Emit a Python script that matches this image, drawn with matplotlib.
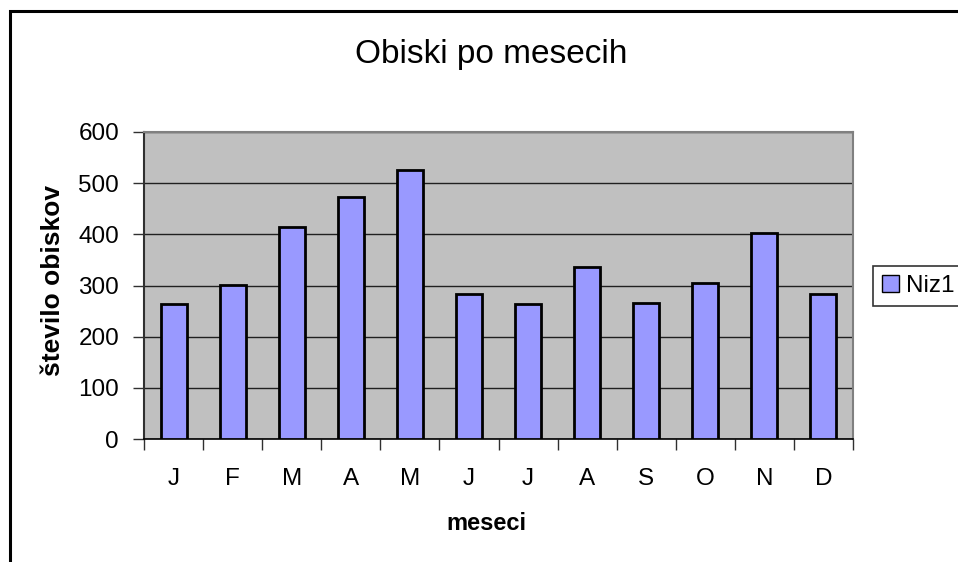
import matplotlib
matplotlib.use("Agg")
import matplotlib.pyplot as plt
from matplotlib.patches import Rectangle

months = ["J", "F", "M", "A", "M", "J", "J", "A", "S", "O", "N", "D"]
visits = [263, 301, 415, 473, 525, 283, 263, 337, 266, 305, 403, 283]
series_name = "Niz1"
title = "Obiski po mesecih"
xlabel = "meseci"
ylabel = "število obiskov"
yticks = [0, 100, 200, 300, 400, 500, 600]

plt.rcParams['font.family'] = ['Liberation Sans', 'DejaVu Sans']

W, H = 958, 562
fig = plt.figure(figsize=(W / 100, H / 100), dpi=100)
ax = fig.add_axes([144 / W, (H - 439) / H, 709 / W, 307 / H])
ax.set_facecolor('#C0C0C0')

x = list(range(len(months)))
ax.bar(x, visits, width=0.44, color='#9999FF', edgecolor='black', linewidth=2.0,
       zorder=3, label=series_name)

ax.set_xlim(-0.5, len(months) - 0.5)
ax.set_ylim(0, 600)
ax.set_yticks(yticks)
ax.set_yticklabels([str(v) for v in yticks])
ax.yaxis.grid(True, color='#202020', linewidth=1.0, zorder=1)
ax.set_axisbelow(True)

ax.set_xticks(x)
ax.set_xticklabels(months)
ax.set_xticks([i - 0.5 for i in range(len(months) + 1)], minor=True)
ax.tick_params(axis='x', which='major', length=0, pad=21, labelsize=17.5)
ax.tick_params(axis='x', which='minor', length=8, width=1, color='#303030')
ax.tick_params(axis='y', length=8, width=1, color='#303030', pad=10, labelsize=17.5)

for s in ['top', 'right']:
    ax.spines[s].set_color('#808080')
    ax.spines[s].set_linewidth(1.5)
ax.spines['left'].set_color('#303030')
ax.spines['left'].set_linewidth(1.5)
ax.spines['bottom'].set_color('#000000')
ax.spines['bottom'].set_linewidth(1.2)

fig.text(491 / W, 1 - 55 / H, title, ha='center', va='center', fontsize=24)
fig.text(486 / W, 1 - 524 / H, xlabel, ha='center', va='center', fontsize=17,
         fontweight='bold')
fig.text(53 / W, 1 - 280 / H, ylabel, ha='center', va='center', fontsize=19,
         fontweight='bold', rotation=90)

leg = fig.legend(loc='center left', bbox_to_anchor=(873 / W, 1 - 286 / H),
                 frameon=True, fancybox=False, fontsize=17.5, handlelength=0.7,
                 handleheight=0.7, handletextpad=0.3, borderpad=0.35,
                 borderaxespad=0)
leg.get_frame().set_edgecolor('black')
leg.get_frame().set_linewidth(1.2)
for h in leg.legend_handles:
    h.set_linewidth(1.0)

border = Rectangle((10 / W, -0.1), 1.2, 1 - 11 / H + 0.1, transform=fig.transFigure,
                   fill=False, edgecolor='black', linewidth=2.2)
fig.patches.append(border)

fig.savefig('out.png', dpi=100)
